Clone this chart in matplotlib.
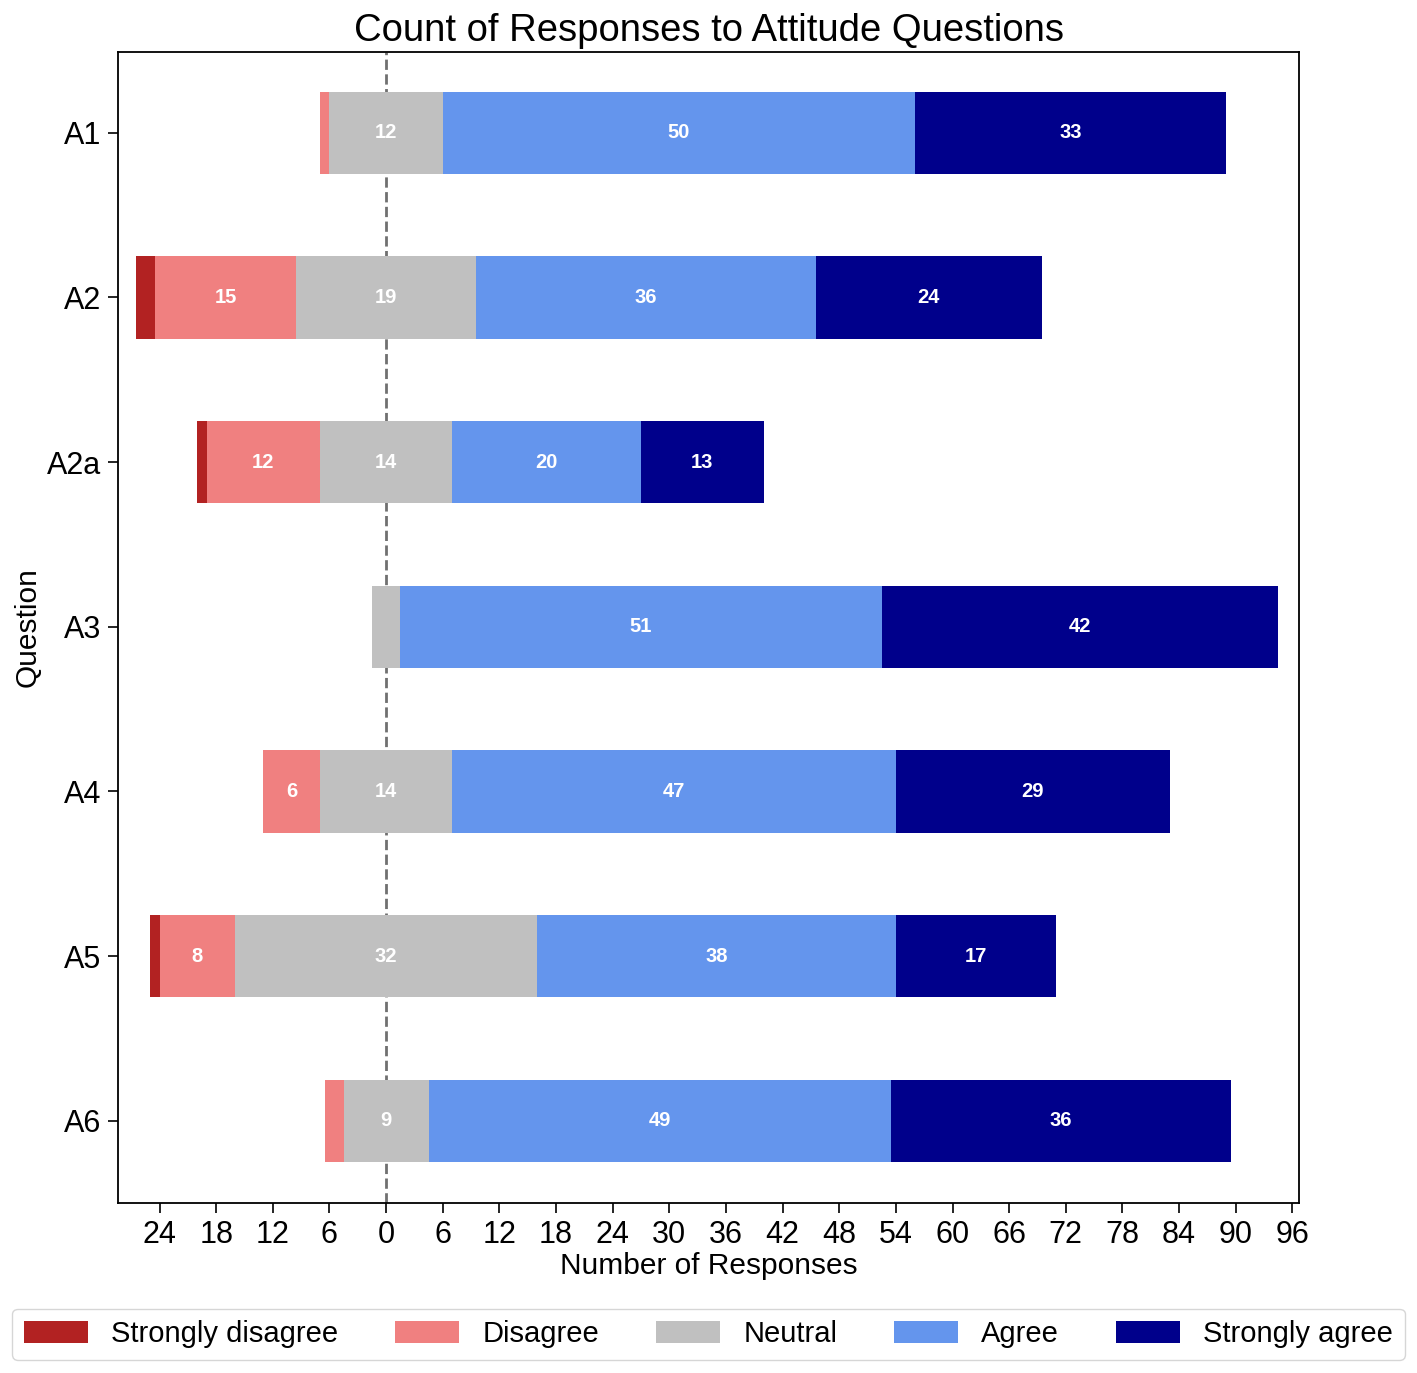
import matplotlib
matplotlib.use("Agg")
import matplotlib.pyplot as plt
import numpy as np

plt.rcParams["font.family"] = ["Liberation Sans", "DejaVu Sans"]

questions = ["A1", "A2", "A2a", "A3", "A4", "A5", "A6"]
categories = ["Strongly disagree", "Disagree", "Neutral", "Agree", "Strongly agree"]
strongly_disagree = [0, 2, 1, 0, 0, 1, 0]
disagree = [1, 15, 12, 0, 6, 8, 2]
neutral = [12, 19, 14, 3, 14, 32, 9]
agree = [50, 36, 20, 51, 47, 38, 49]
strongly_agree = [33, 24, 13, 42, 29, 17, 36]
xticks = list(range(-24, 97, 6))

colors = ["#b22222", "#f08080", "#c0c0c0", "#6495ed", "#00008b"]

sd = np.array(strongly_disagree)
d = np.array(disagree)
n = np.array(neutral)
a = np.array(agree)
sa = np.array(strongly_agree)

# left edges for the diverging stack, neutral centred on zero
starts = [
    -n / 2 - d - sd,
    -n / 2 - d,
    -n / 2,
    n / 2,
    n / 2 + a,
]
widths = [sd, d, n, a, sa]

fig = plt.figure(figsize=(14.17, 13.73), dpi=100)
ax = fig.add_axes([0.0833, 0.1238, 0.8334, 0.8383])
y = np.arange(len(questions))

ax.axvline(0, color="#707070", linestyle="--", linewidth=2, zorder=1)
for cat, col, left, w in zip(categories, colors, starts, widths):
    bars = ax.barh(y, w, left=left, height=0.5, color=col, label=cat, zorder=2)
    for b, v in zip(bars, w):
        if v >= 5:
            ax.text(b.get_x() + b.get_width() / 2, b.get_y() + b.get_height() / 2,
                    str(v), ha="center", va="center", color="white",
                    fontsize=14.5, fontweight="bold", zorder=3)

ax.set_yticks(y)
ax.set_yticklabels(questions, fontsize=22)
ax.set_ylim(6.5, -0.49)
ax.set_xlim(-28.4, 96.7)
ax.set_xticks(xticks)
ax.set_xticklabels([str(abs(t)) for t in xticks], fontsize=22)
ax.tick_params(axis="both", length=7, width=1.2, pad=5)
for s in ax.spines.values():
    s.set_linewidth(1.3)
ax.set_xlabel("Number of Responses", fontsize=21.5, labelpad=2)
ax.set_ylabel("Question", fontsize=21.5, labelpad=4)
ax.set_title("Count of Responses to Attitude Questions", fontsize=27.5, pad=8)

fig.legend(loc="lower left", bbox_to_anchor=(0.0085, 0.0095, 0.983, 0.038),
           mode="expand", borderaxespad=0, ncol=5, fontsize=21,
           handlelength=2.2, handleheight=0.75, frameon=True)

plt.savefig("out.png", dpi=100)
